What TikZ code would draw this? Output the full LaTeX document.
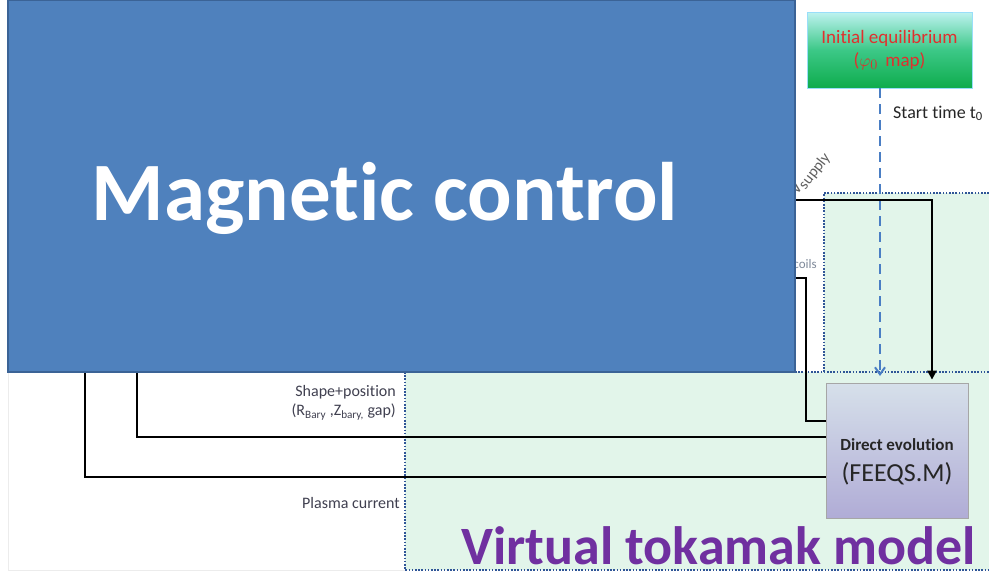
\documentclass[tikz,border=0pt]{standalone}
\usepackage{fontspec}
\setmainfont{Carlito}[Ligatures=NoCommon]
\usetikzlibrary{arrows.meta}
\definecolor{boxblue}{HTML}{4F81BD}
\definecolor{boxblueedge}{HTML}{3B6396}
\definecolor{greenfill}{HTML}{E2F5EA}
\definecolor{dotblue}{HTML}{2F5597}
\definecolor{dashblue}{HTML}{4A7EC4}
\definecolor{purpletxt}{HTML}{7030A0}
\definecolor{redtxt}{HTML}{E0302E}
\definecolor{lbltxt}{HTML}{404050}
\definecolor{subgray}{HTML}{7F8A9A}
\tikzset{
  dotb/.style={draw=dotblue, line width=1.6pt, dash pattern=on 1.6pt off 1.6pt},
  conn/.style={draw=black, line width=2.4pt},
  startarrow/.style={draw=dashblue, line width=2pt, dash pattern=on 10pt off 6pt, -{Straight Barb[length=7pt,width=10pt]}},
  inieq/.style={draw=cyan!40, line width=0.8pt, minimum width=165pt, minimum height=76pt, top color={rgb,255:red,190;green,242;blue,240}, bottom color={rgb,255:red,14;green,172;blue,76}, middle color={rgb,255:red,60;green,200;blue,135}, align=center, text=redtxt, font=\fontsize{19}{23}\selectfont},
  direv/.style={draw=gray!70, line width=0.8pt, minimum width=142pt, minimum height=135pt, top color={rgb,255:red,214;green,224;blue,234}, bottom color={rgb,255:red,176;green,172;blue,214}, align=center, text=black!85},
  mcbox/.style={fill=boxblue, draw=boxblueedge, line width=2pt, minimum width=787pt, minimum height=372pt},
  lbl/.style={text=lbltxt, font=\fontsize{16}{18}\selectfont, inner sep=1pt},
}
\begin{document}
\begin{tikzpicture}[x=1pt,y=-1pt]
\useasboundingbox (0,0) rectangle (989,576);
\fill[white] (0,0) rectangle (989,576);
% green regions
\fill[greenfill] (405,372) rectangle (989,570);
\fill[greenfill] (824,193) rectangle (989,372);
\draw[gray!15, line width=1pt] (8,372) -- (8,570) -- (405,570);
\draw[dotb] (989,193) -- (824,193) -- (824,372);
\draw[dotb] (795,372) -- (989,372);
\draw[dotb] (405,372) -- (405,570) -- (989,570);

% nodes
\node[inieq] (ie) at (889.5,50) {Initial equilibrium\\($\varphi_0$\, map)};
\node[direv] (de) at (897,450.5) {\\[23pt]{\bfseries\fontsize{17}{20}\selectfont Direct evolution}\\[11pt]{\fontsize{26}{28}\selectfont (FEEQS.M)}};

% helper coordinates
\coordinate (vsx) at (932,0);
\coordinate (icx) at (806,0);
\coordinate (spx) at (137,0);
\coordinate (pcx) at (85,0);
\coordinate (stend) at (880,376);

% start time
\draw[startarrow] ([xshift=-9.5pt]ie.south) -- (stend);
\node[anchor=base west, font=\fontsize{18}{20}\selectfont, text=black!85, inner sep=0pt] (st) at (893,118) {Start time t\textsubscript{0}};

% connectors
\node[mcbox] (mc) at (401.5,186) {};
\draw[conn, -{Triangle[length=9pt,width=9pt]}] ([yshift=-14pt]mc.east) -- (vsx |- 0,200) -- ([yshift=3pt]vsx |- de.north);
\draw[conn] ([yshift=-92pt]mc.east) -- (icx |- 0,278) -- (icx |- 0,421) -- ([yshift=29.5pt]de.west);
\draw[conn] ([yshift=13.5pt]de.west) -- (spx |- 0,437) -- (spx |- mc.south);
\draw[conn] ([yshift=-26.5pt]de.west) -- (pcx |- 0,477) -- (pcx |- mc.south);

% labels
\node[lbl, anchor=east] (sp1) at (397,392) {Shape+position};
\node[lbl, anchor=east] (sp2) at (397,412) {(R\textsubscript{Bary} ,Z\textsubscript{bary,} gap)};
\node[lbl, anchor=east] (pc) at (401,503) {Plasma current};
\node[anchor=base west, text=subgray, inner sep=0pt, font=\fontsize{17}{19}\selectfont] (ic) at (789,265) {I\raisebox{-3pt}{\fontsize{13}{15}\selectfont coils}};
\node[anchor=base west, rotate=52, text=gray!75!black, inner sep=0pt, font=\fontsize{17}{19}\selectfont] (vs) at (797,196) {V\raisebox{-3pt}{\fontsize{15.5}{17}\selectfont supply}};

% magnetic control box (on top)
\node[mcbox] at (401.5,186) {};
\node[text=white, font=\bfseries\fontsize{83}{92}\selectfont] (mct) at (385,198) {Magnetic control};

% virtual tokamak
\node[anchor=base east, text=purpletxt, font=\bfseries\fontsize{54}{60}\selectfont, inner sep=0pt] (vt) at (976,564) {Virtual tokamak model};
\end{tikzpicture}
\end{document}
